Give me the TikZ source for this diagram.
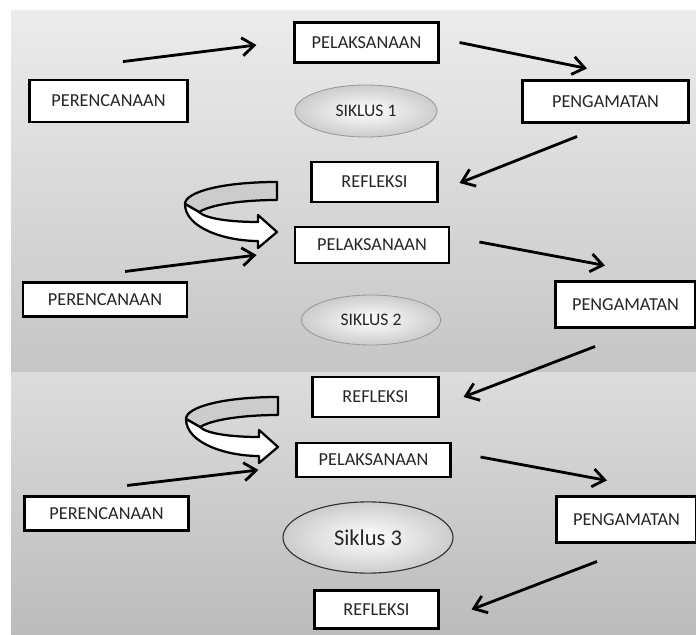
\documentclass[tikz,border=0pt]{standalone}
\usepackage{fontspec}
\setmainfont{Carlito}
\usetikzlibrary{shapes.geometric, arrows.meta}

\tikzset{
    kotak/.style={
        rectangle,
        draw=black,
        fill=white,
        line width=2pt, % garis tebal
        inner sep=0,
        text=black!85,
        font=\fontsize{13}{15}\selectfont
    },
    siklus/.style={
        ellipse,
        draw=gray!80,
        line width=0.6pt,
        inner color=white,
        outer color=gray!40,
        inner sep=0,
        text=black!85,
        font=\fontsize{12.5}{15}\selectfont
    },
    panah/.style={
        -{Straight Barb[length=3mm, width=4.5mm]},
        line width=2pt
    },
    putar/.style={
        line width=1.6pt,
        line join=round
    }
}

% panah melingkar (pita)
\newcommand{\putaran}[1]{%
    \begin{scope}[shift={#1}]
        \filldraw[putar, fill=gray!40] (277,182) .. controls (222,182) and (185,192) .. (185,204)
            -- (199,212) .. controls (212,204) and (245,200) .. (277,200) -- cycle;
        \filldraw[putar, fill=white] (185,204) .. controls (185,228) and (225,241) .. (258,241)
            -- (258,248) -- (277,232) -- (258,215) -- (258,222)
            .. controls (232,222) and (206,219) .. (199,212) -- cycle;
    \end{scope}}

\begin{document}
\begin{tikzpicture}[x=0.025cm, y=-0.025cm]
    \useasboundingbox (0,0) rectangle (696,635);
    % latar belakang
    \fill[white] (0,0) rectangle (696,635);
    \shade[top color=gray!15, bottom color=gray!45] (11,11) rectangle (696,372);
    \shade[top color=gray!27, bottom color=gray!53] (11,372) rectangle (696,635);

    % siklus 1
    \node[kotak, minimum width=3.58cm, minimum height=0.98cm] (pl1) at (366.5,42.5) {PELAKSANAAN};
    \node[kotak, minimum width=3.93cm, minimum height=1.05cm] (pr1) at (108.5,101) {PERENCANAAN};
    \node[siklus, minimum width=3.55cm, minimum height=1.3cm] (sk1) at (366,111) {SIKLUS 1};
    \node[kotak, minimum width=4.13cm, minimum height=1.03cm] (pg1) at (605.5,101.5) {PENGAMATAN};
    \node[kotak, minimum width=3.13cm, minimum height=1cm] (rf1) at (374.5,182) {REFLEKSI};

    \draw[panah] ([shift={(14.5,-17)}]pr1.north) -- ([shift={(-37,2.5)}]pl1.west);
    \draw[panah] ([shift={(20,0)}]pl1.east) -- ([shift={(-18.5,-11)}]pg1.north);
    \draw[panah] ([shift={(-28.5,13)}]pg1.south) -- ([shift={(21,1)}]rf1.east);

    % siklus 2
    \putaran{(0,0)}
    \node[kotak, minimum width=3.85cm, minimum height=0.9cm] (pl2) at (372,245) {PELAKSANAAN};
    \node[kotak, minimum width=4.1cm, minimum height=0.83cm] (pr2) at (105,299.5) {PERENCANAAN};
    \node[siklus, minimum width=3.48cm, minimum height=1.25cm] (sk2) at (371,320) {SIKLUS 2};
    \node[kotak, minimum width=3.48cm, minimum height=1.13cm] (pg2) at (625.5,304.5) {PENGAMATAN};
    \node[kotak, minimum width=3.13cm, minimum height=1cm] (rf2) at (375.5,397) {REFLEKSI};

    \draw[panah] ([shift={(20,-10)}]pr2.north) -- ([shift={(-37,10)}]pl2.west);
    \draw[panah] ([shift={(29,-3)}]pl2.east) -- ([shift={(-20.5,-15)}]pg2.north);
    \draw[panah] ([shift={(-30.5,18)}]pg2.south) -- ([shift={(24,0)}]rf2.east);

    % siklus 3
    \putaran{(1,215)}
    \node[kotak, minimum width=3.83cm, minimum height=0.85cm] (pl3) at (373.5,460) {PELAKSANAAN};
    \node[kotak, minimum width=4.08cm, minimum height=0.83cm] (pr3) at (106.5,513.5) {PERENCANAAN};
    \node[siklus, draw=black!80, line width=0.8pt, minimum width=4.25cm, minimum height=1.78cm,
          font=\fontsize{16}{19}\selectfont] (sk3) at (368,537.5) {Siklus 3};
    \node[kotak, minimum width=3.48cm, minimum height=1.13cm] (pg3) at (626.5,519.5) {PENGAMATAN};
    \node[kotak, minimum width=3.08cm, minimum height=0.93cm] (rf3) at (376.5,609.5) {REFLEKSI};

    \draw[panah] ([shift={(20.5,-10)}]pr3.north) -- ([shift={(-37,10)}]pl3.west);
    \draw[panah] ([shift={(29,-3)}]pl3.east) -- ([shift={(-19.5,-15)}]pg3.north);
    \draw[panah] ([shift={(-29.5,18)}]pg3.south) -- ([shift={(32,0)}]rf3.east);
\end{tikzpicture}
\end{document}
